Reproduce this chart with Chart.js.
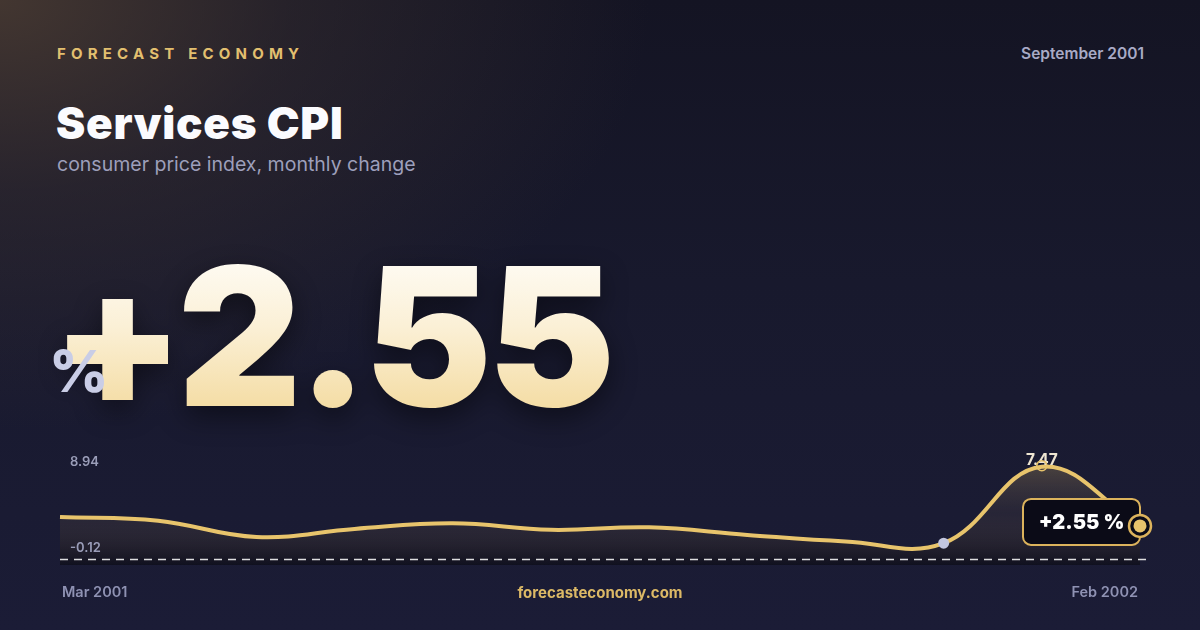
<!DOCTYPE html>
<html><head><meta charset="utf-8">
<script src="https://cdn.jsdelivr.net/npm/chart.js@4/dist/chart.umd.min.js"></script>
<style>
html,body{margin:0;padding:0;width:1200px;height:630px;overflow:hidden;}
body{position:relative;font-family:Inter,"Noto Sans",sans-serif;
background:
 radial-gradient(ellipse 650px 430px at 0px 0px, rgba(72,58,50,0.9) 0%, rgba(60,50,50,0.45) 45%, rgba(40,36,50,0) 100%),
 linear-gradient(180deg,#141423 0%,#18192d 45%,#1b1c36 100%);}
.t{position:absolute;white-space:nowrap;line-height:1;}
.brand{left:57px;top:46px;font-size:15px;font-weight:700;letter-spacing:5.2px;color:#e2bf6f;}
.date{right:56px;top:46px;font-size:15.5px;font-weight:600;color:#a8aac6;}
.title{left:56px;top:101px;font-size:44px;font-weight:900;color:#fbfbfe;letter-spacing:0.7px;}
.sub{left:57px;top:155px;font-size:19.5px;font-weight:400;color:#9d9fbb;}
.big{left:51px;top:240px;font-size:192px;font-weight:900;letter-spacing:-4.5px;
 background:linear-gradient(180deg,#fffefb 0%,#fbf0d6 45%,#f2d796 100%);
 -webkit-background-clip:text;background-clip:text;color:transparent;
 filter:drop-shadow(0 10px 14px rgba(0,0,0,0.45));}
.pct{left:49px;top:342px;font-size:58px;font-weight:800;color:#c9cde6;}
.foot{top:585px;font-size:14.5px;font-weight:600;color:#8f92b3;}
.site{top:585px;left:0;width:1200px;text-align:center;font-size:15px;font-weight:700;color:#dcb966;}
#c{position:absolute;left:0;top:0;}
</style></head>
<body>
<div class="t brand">FORECAST ECONOMY</div>
<div class="t date">September 2001</div>
<div class="t title">Services CPI</div>
<div class="t sub">consumer price index, monthly change</div>
<div class="t big" id="big"></div>
<div class="t pct">%</div>
<canvas id="c" width="1200" height="630"></canvas>
<div class="t foot" id="first" style="left:62px"></div>
<div class="t foot" id="last" style="right:62px"></div>
<div class="t site">forecasteconomy.com</div>
<script>
const MONTHS = ["Mar 2001","Apr 2001","May 2001","Jun 2001","Jul 2001","Aug 2001","Sep 2001","Oct 2001","Nov 2001","Dec 2001","Jan 2002","Feb 2002"];
const CPI_CHANGE = [3.28,2.98,1.63,2.30,2.76,2.22,2.43,1.80,1.26,1.11,7.47,2.55];
const Y_TICKS = [8.94,-0.12];
const HIGHLIGHT_INDEX = 9;

const GOLD = '#e8c46c';
const last = CPI_CHANGE[CPI_CHANGE.length-1];
const fmt = v => (v>=0?'+':'') + v.toFixed(2);
document.getElementById('big').textContent = fmt(last);
document.getElementById('first').textContent = MONTHS[0];
document.getElementById('last').textContent = MONTHS[MONTHS.length-1];

const overlay = {
  id:'overlay',
  afterDatasetsDraw(chart){
    const {ctx, chartArea:a, scales:{x,y}} = chart;
    const meta = chart.getDatasetMeta(0);
    ctx.save();
    const yb = y.getPixelForValue(Y_TICKS[1]) + 1.5;
    ctx.setLineDash([8,6]);
    ctx.strokeStyle='rgba(255,255,255,0.85)';
    ctx.lineWidth=1.5;
    ctx.beginPath();ctx.moveTo(a.left,yb);ctx.lineTo(a.right+6,yb);ctx.stroke();
    ctx.setLineDash([]);
    ctx.font='600 13px Inter';
    ctx.fillStyle='#9a9db8';
    ctx.textAlign='left';ctx.textBaseline='middle';
    ctx.fillText(Y_TICKS[0].toFixed(2), a.left+10, y.getPixelForValue(Y_TICKS[0])+13);
    ctx.fillText(Y_TICKS[1].toFixed(2), a.left+10, y.getPixelForValue(Y_TICKS[1])-10);
    let mi=0; CPI_CHANGE.forEach((v,i)=>{if(v>CPI_CHANGE[mi])mi=i;});
    const pk = meta.data[mi];
    ctx.font='700 15.5px Inter';
    ctx.fillStyle='#efe6d2';ctx.textAlign='center';
    ctx.fillText(CPI_CHANGE[mi].toFixed(2), pk.x, pk.y-6);
    ctx.strokeStyle=GOLD;ctx.lineWidth=1.5;
    ctx.beginPath();ctx.arc(pk.x,pk.y-1,5,0,Math.PI*2);ctx.stroke();
    const hd = meta.data[HIGHLIGHT_INDEX];
    ctx.fillStyle='#c3c7e0';
    ctx.beginPath();ctx.arc(hd.x,hd.y,5.5,0,Math.PI*2);ctx.fill();
    const lp = meta.data[meta.data.length-1];
    const bw=117,bh=46,bx=lp.x-bw,by=lp.y-4-bh/2;
    ctx.beginPath();ctx.roundRect(bx,by,bw,bh,8);
    ctx.fillStyle='#0b0b17';ctx.fill();
    ctx.strokeStyle='#dcb35c';ctx.lineWidth=2;ctx.stroke();
    ctx.fillStyle='#ffffff';ctx.font='900 20px Inter';ctx.textAlign='center';
    ctx.fillText(fmt(last)+' %', bx+bw/2, by+bh/2+1);
    ctx.beginPath();ctx.arc(lp.x,lp.y,11,0,Math.PI*2);
    ctx.fillStyle='#0b0b17';ctx.fill();
    ctx.strokeStyle='#dcb35c';ctx.lineWidth=2.5;ctx.stroke();
    ctx.beginPath();ctx.arc(lp.x,lp.y,6.5,0,Math.PI*2);
    ctx.fillStyle=GOLD;ctx.fill();
    ctx.restore();
  }
};

new Chart(document.getElementById('c'),{
  type:'line',
  data:{labels:MONTHS,datasets:[{
    data:CPI_CHANGE,
    borderColor:GOLD,borderWidth:4,tension:0.4,
    pointRadius:0,clip:false,
    fill:'start',
    backgroundColor:(ctx)=>{
      const a=ctx.chart.chartArea; if(!a) return 'rgba(0,0,0,0)';
      const g=ctx.chart.ctx.createLinearGradient(0,a.top,0,a.bottom);
      g.addColorStop(0,'rgba(232,196,106,0.32)');
      g.addColorStop(0.55,'rgba(120,100,80,0.14)');
      g.addColorStop(1,'rgba(8,8,14,0.55)');
      return g;
    }
  }]},
  options:{
    responsive:false,animation:false,devicePixelRatio:1,
    layout:{padding:{left:60,right:60,top:449,bottom:65}},
    plugins:{legend:{display:false},tooltip:{enabled:false}},
    scales:{
      x:{display:false,offset:false},
      y:{display:false,min:-0.70,max:8.94}
    }
  },
  plugins:[overlay]
});
</script>
</body></html>
